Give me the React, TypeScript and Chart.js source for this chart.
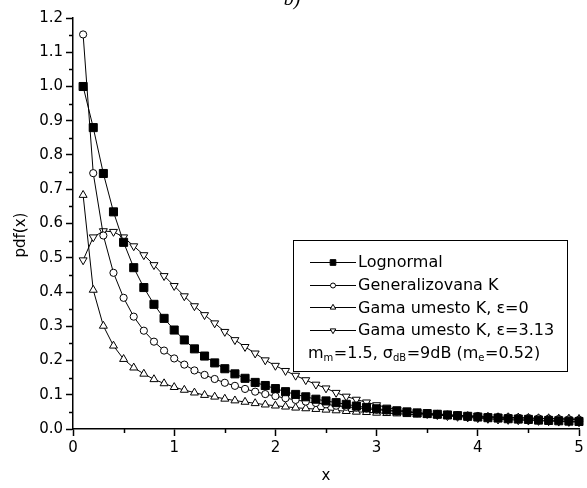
import React, { useEffect, useRef } from 'react';
import { Chart, registerables } from 'chart.js';

Chart.register(...registerables);

const xValues = [
  0.1, 0.2, 0.3, 0.4, 0.5, 0.6, 0.7, 0.8, 0.9, 1.0,
  1.1, 1.2, 1.3, 1.4, 1.5, 1.6, 1.7, 1.8, 1.9, 2.0,
  2.1, 2.2, 2.3, 2.4, 2.5, 2.6, 2.7, 2.8, 2.9, 3.0,
  3.1, 3.2, 3.3, 3.4, 3.5, 3.6, 3.7, 3.8, 3.9, 4.0,
  4.1, 4.2, 4.3, 4.4, 4.5, 4.6, 4.7, 4.8, 4.9, 5.0,
];

const lognormal = [
  1.000, 0.880, 0.746, 0.634, 0.545, 0.471, 0.413, 0.364, 0.323, 0.289,
  0.260, 0.234, 0.213, 0.193, 0.176, 0.161, 0.148, 0.136, 0.127, 0.118,
  0.109, 0.101, 0.094, 0.087, 0.082, 0.077, 0.072, 0.067, 0.063, 0.059,
  0.056, 0.053, 0.050, 0.047, 0.045, 0.043, 0.041, 0.039, 0.037, 0.035,
  0.033, 0.032, 0.030, 0.029, 0.028, 0.026, 0.025, 0.024, 0.023, 0.022,
];

const generalizovanaK = [
  1.152, 0.747, 0.565, 0.456, 0.383, 0.328, 0.287, 0.255, 0.229, 0.206,
  0.188, 0.171, 0.158, 0.146, 0.135, 0.126, 0.117, 0.109, 0.102, 0.096,
  0.090, 0.085, 0.080, 0.076, 0.072, 0.068, 0.065, 0.062, 0.059, 0.056,
  0.054, 0.051, 0.049, 0.047, 0.045, 0.044, 0.042, 0.040, 0.039, 0.038,
  0.036, 0.035, 0.034, 0.033, 0.032, 0.031, 0.030, 0.029, 0.028, 0.027,
];

const gamaEps0 = [
  0.683, 0.406, 0.301, 0.243, 0.204, 0.179, 0.161, 0.145, 0.133, 0.122,
  0.114, 0.106, 0.099, 0.094, 0.088, 0.083, 0.079, 0.075, 0.071, 0.068,
  0.065, 0.062, 0.060, 0.058, 0.056, 0.054, 0.052, 0.050, 0.049, 0.047,
  0.046, 0.045, 0.043, 0.042, 0.041, 0.040, 0.039, 0.038, 0.037, 0.036,
  0.035, 0.034, 0.034, 0.033, 0.032, 0.031, 0.031, 0.030, 0.030, 0.029,
];

const gamaEps313 = [
  0.493, 0.560, 0.578, 0.576, 0.560, 0.534, 0.508, 0.479, 0.447, 0.418,
  0.388, 0.359, 0.333, 0.309, 0.284, 0.260, 0.240, 0.221, 0.201, 0.185,
  0.170, 0.156, 0.143, 0.130, 0.119, 0.106, 0.095, 0.086, 0.078, 0.070,
  0.063, 0.057, 0.052, 0.048, 0.044, 0.041, 0.038, 0.036, 0.034, 0.032,
  0.030, 0.028, 0.027, 0.026, 0.025, 0.024, 0.023, 0.022, 0.021, 0.020,
];

const seriesLabels = [
  'Lognormal',
  'Generalizovana K',
  'Gama umesto K, \u03b5=0',
  'Gama umesto K, \u03b5=3.13',
];

const yTickLabels = ['0.0','0.1','0.2','0.3','0.4','0.5','0.6','0.7','0.8','0.9','1.0','1.1','1.2'];
const xTickLabels = ['0', '1', '2', '3', '4', '5'];

const panelTitle = 'b)';
const xAxisTitle = 'x';
const yAxisTitle = 'pdf(x)';

const FONT = '"DejaVu Sans", "Liberation Sans", Arial, sans-serif';

type MarkerSpec = { style: string; fill: string; radius: number; rotation: number };
const markers: MarkerSpec[] = [
  { style: 'rect', fill: '#000', radius: 5.7, rotation: 0 },
  { style: 'circle', fill: '#fff', radius: 3.6, rotation: 0 },
  { style: 'triangle', fill: '#fff', radius: 4.6, rotation: 0 },
  { style: 'triangle', fill: '#fff', radius: 4.6, rotation: 180 },
];

function drawMarker(ctx: CanvasRenderingContext2D, m: MarkerSpec, x: number, y: number, r: number) {
  ctx.save();
  ctx.beginPath();
  if (m.style === 'rect') {
    const s = r * Math.SQRT1_2;
    ctx.rect(x - s, y - s, 2 * s, 2 * s);
  } else if (m.style === 'circle') {
    ctx.arc(x, y, r, 0, Math.PI * 2);
  } else {
    let rad = (m.rotation * Math.PI) / 180;
    ctx.moveTo(x + Math.sin(rad) * r, y - Math.cos(rad) * r);
    rad += (2 * Math.PI) / 3;
    ctx.lineTo(x + Math.sin(rad) * r, y - Math.cos(rad) * r);
    rad += (2 * Math.PI) / 3;
    ctx.lineTo(x + Math.sin(rad) * r, y - Math.cos(rad) * r);
    ctx.closePath();
  }
  ctx.fillStyle = m.fill;
  ctx.fill();
  ctx.strokeStyle = '#000';
  ctx.lineWidth = 1;
  ctx.stroke();
  ctx.restore();
}

const decorPlugin = {
  id: 'decor',
  afterDraw(chart: any) {
    const ctx: CanvasRenderingContext2D = chart.ctx;
    const area = chart.chartArea;
    const xs = chart.scales.x;
    const ys = chart.scales.y;
    ctx.save();
    // minor ticks
    ctx.strokeStyle = '#000';
    ctx.lineWidth = 1.5;
    for (let i = 0; i < 12; i++) {
      const v = 0.05 + i * 0.1;
      const py = Math.round(ys.getPixelForValue(v)) + 0.5;
      ctx.beginPath();
      ctx.moveTo(area.left - 4, py);
      ctx.lineTo(area.left, py);
      ctx.stroke();
    }
    for (let i = 0; i < 5; i++) {
      const v = 0.5 + i;
      const px = Math.round(xs.getPixelForValue(v)) + 0.5;
      ctx.beginPath();
      ctx.moveTo(px, area.bottom);
      ctx.lineTo(px, area.bottom + 4);
      ctx.stroke();
    }

    // panel title (cut at the top)
    ctx.fillStyle = '#000';
    ctx.font = 'italic 20px "Liberation Serif", "DejaVu Serif", serif';
    ctx.textAlign = 'center';
    ctx.textBaseline = 'alphabetic';
    ctx.fillText(panelTitle, 292, 5);

    // axis titles
    ctx.font = `15px ${FONT}`;
    ctx.textAlign = 'center';
    ctx.textBaseline = 'middle';
    ctx.fillText(xAxisTitle, (area.left + area.right) / 2, 476);
    ctx.save();
    ctx.translate(21, 235);
    ctx.rotate(-Math.PI / 2);
    ctx.fillText(yAxisTitle, 0, 0);
    ctx.restore();

    // legend box
    const bx = 293.5, by = 240.5, bw = 274, bh = 131;
    ctx.fillStyle = '#fff';
    ctx.fillRect(bx, by, bw, bh);
    ctx.strokeStyle = '#000';
    ctx.lineWidth = 1;
    ctx.strokeRect(bx, by, bw, bh);

    const baselines = [267, 290, 312.5, 335];
    ctx.font = `16px ${FONT}`;
    ctx.textAlign = 'left';
    ctx.textBaseline = 'alphabetic';
    for (let i = 0; i < seriesLabels.length; i++) {
      const ly = Math.round(baselines[i] - 5.5) + 0.5;
      ctx.beginPath();
      ctx.strokeStyle = '#000';
      ctx.lineWidth = 1;
      ctx.moveTo(310, ly);
      ctx.lineTo(356, ly);
      ctx.stroke();
      const m = markers[i];
      const lr = m.style === 'rect' ? 4 : m.style === 'circle' ? 2.5 : 3.2;
      drawMarker(ctx, m, 333, ly, lr);
      ctx.fillStyle = '#000';
      ctx.fillText(seriesLabels[i], 358, baselines[i]);
    }

    // parameter line with subscripts
    const parts: [string, boolean][] = [
      ['m', false], ['m', true], ['=1.5, \u03c3', false], ['dB', true],
      ['=9dB (m', false], ['e', true], ['=0.52)', false],
    ];
    let cx = 308;
    const base = 357.5;
    for (const [t, sub] of parts) {
      ctx.font = sub ? `10px ${FONT}` : `16px ${FONT}`;
      ctx.fillText(t, cx, sub ? base + 3 : base);
      cx += ctx.measureText(t).width + (sub ? 0.5 : 0);
    }
    ctx.restore();
  },
};

export default function App() {
  const canvasRef = useRef<HTMLCanvasElement | null>(null);

  useEffect(() => {
    const canvas = canvasRef.current;
    if (!canvas) return;
    const series = [lognormal, generalizovanaK, gamaEps0, gamaEps313];
    const datasets = series.map((vals, i) => ({
      label: seriesLabels[i],
      data: xValues.map((x, j) => ({ x, y: vals[j] })),
      borderColor: '#000',
      borderWidth: 1,
      backgroundColor: markers[i].fill,
      pointStyle: markers[i].style,
      pointRadius: markers[i].radius,
      pointRotation: markers[i].rotation,
      pointBackgroundColor: markers[i].fill,
      pointBorderColor: '#000',
      pointBorderWidth: 1,
      tension: 0,
      fill: false,
      clip: false as any,
    }));

    const chart = new Chart(canvas, {
      type: 'line',
      data: { datasets: datasets as any },
      options: {
        responsive: false,
        animation: false,
        events: [],
        layout: { padding: { top: 18, right: 8, left: 0, bottom: 0 } },
        plugins: {
          legend: { display: false },
          tooltip: { enabled: false },
          title: { display: false },
        },
        scales: {
          x: {
            type: 'linear',
            min: 0,
            max: 5,
            afterFit: (s: any) => { s.height = 59; },
            afterBuildTicks: (s: any) => {
              s.ticks = xTickLabels.map((t) => ({ value: parseFloat(t) }));
            },
            ticks: {
              color: '#000',
              padding: 3,
              font: { family: FONT, size: 15 },
              maxRotation: 0,
              callback: (_v: any, idx: number) => xTickLabels[idx],
            },
            grid: {
              display: true,
              drawOnChartArea: false,
              drawTicks: true,
              tickLength: 7,
              tickColor: '#000',
              tickWidth: 1.5,
              color: '#000',
            },
            border: { display: true, color: '#000', width: 1.5 },
          },
          y: {
            type: 'linear',
            min: 0,
            max: 1.2,
            afterFit: (s: any) => { s.width = 73; },
            afterBuildTicks: (s: any) => {
              s.ticks = yTickLabels.map((t) => ({ value: parseFloat(t) }));
            },
            ticks: {
              color: '#000',
              padding: 3,
              font: { family: FONT, size: 15 },
              callback: (_v: any, idx: number) => yTickLabels[idx],
            },
            grid: {
              display: true,
              drawOnChartArea: false,
              drawTicks: true,
              tickLength: 7,
              tickColor: '#000',
              tickWidth: 1.5,
              color: '#000',
            },
            border: { display: true, color: '#000', width: 1.5 },
          },
        },
      } as any,
      plugins: [decorPlugin],
    });
    return () => chart.destroy();
  }, []);

  return (
    <div style={{ position: 'absolute', left: 0, top: 0, width: 587, height: 488, background: '#fff' }}>
      <canvas ref={canvasRef} width={587} height={488} style={{ display: 'block' }} />
    </div>
  );
}
